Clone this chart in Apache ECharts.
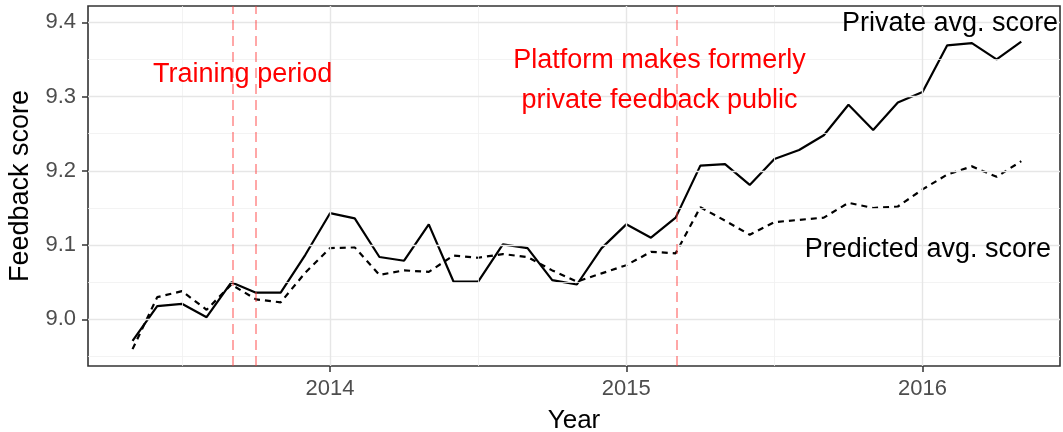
<!DOCTYPE html>
<html>
<head>
<meta charset="utf-8">
<script src="https://cdn.jsdelivr.net/npm/echarts@6/dist/echarts.min.js"></script>
<style>
  html, body { margin: 0; padding: 0; background: #fff; }
  #chart { width: 1063px; height: 432px; }
</style>
</head>
<body>
<div id="chart"></div>
<script>
// Monthly observations, May 2013 – May 2016
const months = [
  '2013-05','2013-06','2013-07','2013-08','2013-09','2013-10','2013-11','2013-12',
  '2014-01','2014-02','2014-03','2014-04','2014-05','2014-06','2014-07','2014-08','2014-09','2014-10','2014-11','2014-12',
  '2015-01','2015-02','2015-03','2015-04','2015-05','2015-06','2015-07','2015-08','2015-09','2015-10','2015-11','2015-12',
  '2016-01','2016-02','2016-03','2016-04','2016-05'
];
const privateAvg = [
  8.971, 9.018, 9.021, 9.003, 9.050, 9.036, 9.036, 9.087,
  9.143, 9.136, 9.084, 9.079, 9.128, 9.051, 9.051, 9.101, 9.096, 9.053, 9.047, 9.096,
  9.128, 9.110, 9.137, 9.207, 9.209, 9.181, 9.216, 9.228, 9.248, 9.289, 9.255, 9.292,
  9.306, 9.369, 9.372, 9.350, 9.374
];
const predictedAvg = [
  8.960, 9.030, 9.038, 9.013, 9.047, 9.027, 9.023, 9.063,
  9.096, 9.097, 9.060, 9.066, 9.064, 9.086, 9.083, 9.088, 9.084, 9.066, 9.051, 9.062,
  9.073, 9.091, 9.089, 9.151, 9.133, 9.114, 9.131, 9.134, 9.137, 9.157, 9.150, 9.152,
  9.175, 9.195, 9.206, 9.192, 9.213
];
// Event markers: training window and the policy change
const eventMonths = ['2013-09', '2013-10', '2015-03'];

// Axis ticks and grid
const xTicks = [2014, 2015, 2016];
const xMinor = [2013.5, 2014.5, 2015.5];
const yTicks = [9.0, 9.1, 9.2, 9.3, 9.4];
const yMinor = [8.95, 9.05, 9.15, 9.25, 9.35];
const xRange = [2013.183, 2016.464];
const yRange = [8.9373, 9.4219];

// Text annotations: [label, x, y, colour]
const annotations = [
  ['Training period', 2013.705, 9.330, '#ff0000'],
  ['Platform makes formerly\nprivate feedback public', 2015.112, 9.322, '#ff0000'],
  ['Private avg. score', 2016.093, 9.398, '#000000'],
  ['Predicted avg. score', 2016.018, 9.094, '#000000']
];

const toYear = m => {
  const [y, mo] = m.split('-').map(Number);
  return y + (mo - 1) / 12;
};

const FONT = '"Liberation Sans", Arial, Helvetica, sans-serif';
const gridMajor = { color: '#e6e6e6', width: 1.4, type: 'solid' };
const gridMinor = { color: '#f0f0f0', width: 0.8, type: 'solid' };

const chart = echarts.init(document.getElementById('chart'), null, { renderer: 'canvas' });

const gridLines = [
  ...xMinor.map(v => ({ xAxis: v, lineStyle: gridMinor })),
  ...yMinor.map(v => ({ yAxis: v, lineStyle: gridMinor })),
  ...xTicks.map(v => ({ xAxis: v, lineStyle: gridMajor })),
  ...yTicks.map(v => ({ yAxis: v, lineStyle: gridMajor }))
];

const option = {
  animation: false,
  backgroundColor: '#ffffff',
  textStyle: { fontFamily: FONT },
  grid: {
    left: 88, right: 3, top: 6, bottom: 66,
    outerBoundsMode: 'none', containLabel: false,
    show: true, borderColor: '#333333', borderWidth: 1.6, backgroundColor: '#ffffff'
  },
  xAxis: {
    type: 'value',
    min: xRange[0], max: xRange[1],
    name: 'Year', nameLocation: 'middle', nameGap: 42,
    nameTextStyle: { fontSize: 26, color: '#000', fontFamily: FONT },
    axisLine: { show: false },
    splitLine: { show: false },
    axisTick: { show: true, customValues: xTicks, length: 6, lineStyle: { color: '#333', width: 1.5 } },
    axisLabel: { customValues: xTicks, fontSize: 22, color: '#4d4d4d', margin: 12, fontFamily: FONT,
                 formatter: v => String(Math.round(v)) }
  },
  yAxis: {
    type: 'value',
    min: yRange[0], max: yRange[1],
    name: 'Feedback score', nameLocation: 'middle', nameGap: 53, nameRotate: 90,
    nameTextStyle: { fontSize: 27, color: '#000', fontFamily: FONT },
    axisLine: { show: false },
    splitLine: { show: false },
    axisTick: { show: true, customValues: yTicks, length: 6, lineStyle: { color: '#333', width: 1.5 } },
    axisLabel: { customValues: yTicks, fontSize: 22, color: '#4d4d4d', margin: 12, fontFamily: FONT,
                 formatter: v => v.toFixed(1) }
  },
  series: [
    {
      name: 'grid', type: 'line', data: [], z: 1, silent: true,
      markLine: { silent: true, symbol: ['none', 'none'], label: { show: false }, data: gridLines, animation: false }
    },
    {
      name: 'events', type: 'line', data: [], z: 2, silent: true,
      markLine: {
        silent: true, symbol: ['none', 'none'], label: { show: false }, animation: false,
        lineStyle: { color: 'rgba(255, 60, 60, 0.45)', width: 2, type: [10, 6] },
        data: eventMonths.map(m => ({ xAxis: toYear(m) }))
      }
    },
    {
      name: 'Predicted avg. score', type: 'line', z: 3, showSymbol: false,
      data: months.map((m, i) => [toYear(m), predictedAvg[i]]),
      lineStyle: { color: '#000', width: 2.2, type: [6, 5] }
    },
    {
      name: 'Private avg. score', type: 'line', z: 4, showSymbol: false,
      data: months.map((m, i) => [toYear(m), privateAvg[i]]),
      lineStyle: { color: '#000', width: 2.2, type: 'solid' }
    },
    ...annotations.map(([txt, x, y, col]) => ({
      type: 'scatter', z: 5, silent: true, symbolSize: 1,
      itemStyle: { color: 'transparent', opacity: 1 },
      data: [[x, y]],
      label: {
        show: true, position: 'inside', formatter: txt, opacity: 1,
        color: col, fontSize: 27, lineHeight: 40, align: 'center', fontFamily: FONT
      }
    }))
  ]
};

chart.setOption(option);
</script>
</body>
</html>
